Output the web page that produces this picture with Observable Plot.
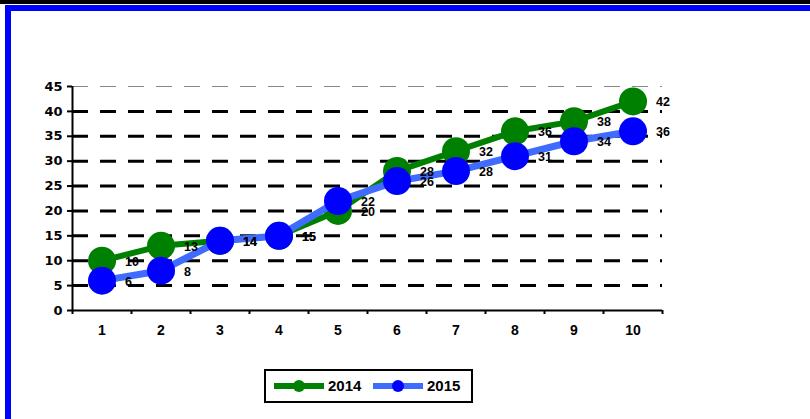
<!DOCTYPE html>
<html><head><meta charset="utf-8">
<script src="https://cdn.jsdelivr.net/npm/d3@7"></script>
<script src="https://cdn.jsdelivr.net/npm/@observablehq/plot@0.6"></script>
<style>
body{margin:0;background:#fff;font-family:"Liberation Sans",Arial,sans-serif;}
#wrap{position:relative;width:810px;height:419px;overflow:hidden;background:#fff;}
#chart{position:absolute;left:0;top:0;}
.blk{position:absolute;left:0;top:0;width:810px;height:4px;background:#000;}
.btop{position:absolute;left:5px;top:5px;width:805px;height:6px;background:#0000ff;}
.bleft{position:absolute;left:5px;top:5px;width:6px;height:414px;background:#0000ff;}
#legend{position:absolute;left:264px;top:369px;width:205px;height:30px;border:2px solid #000;box-sizing:content-box;}
.item{position:absolute;top:0;height:30px;}
.sw{position:absolute;top:12px;width:50px;height:6px;}
.dot{position:absolute;width:12px;height:12px;border-radius:50%;top:-3px;left:19px;}
.lab{position:absolute;top:6px;font-weight:bold;font-size:15px;color:#000;}
</style></head><body>
<div id="wrap">
  <div id="chart"></div>
  <div class="blk"></div>
  <div class="btop"></div>
  <div class="bleft"></div>
  <div id="legend"></div>
</div>
<script>
const categories = [1, 2, 3, 4, 5, 6, 7, 8, 9, 10];
const values2014 = [10, 13, 14, 15, 20, 28, 32, 36, 38, 42];
const values2015 = [6, 8, 14, 15, 22, 26, 28, 31, 34, 36];
const seriesNames = ["2014", "2015"];
const yTicks = [0, 5, 10, 15, 20, 25, 30, 35, 40, 45];
const colors = {"2014": {line: "#008000", dot: "#008000"}, "2015": {line: "#3f6bff", dot: "#0000ff"}};

const rows2014 = categories.map((c, i) => ({x: c, y: values2014[i]}));
const rows2015 = categories.map((c, i) => ({x: c, y: values2015[i]}));
const boundaries = [categories[0] - 0.5, ...categories.map(c => c + 0.5)];
const gridBlack = yTicks.slice(1, -1);
const gridTop = yTicks.slice(-1);
const xMin = categories[0] - 0.5;

const plot = Plot.plot({
  width: 810,
  height: 345,
  marginLeft: 72,
  marginRight: 148,
  marginTop: 86,
  marginBottom: 35,
  x: {type: "linear", domain: [xMin, categories[categories.length - 1] + 0.5]},
  y: {domain: [0, 45]},
  style: {fontFamily: "'Liberation Sans', Arial, sans-serif", fontWeight: "bold", fontSize: "14px", color: "#000", background: "transparent"},
  marks: [
    Plot.ruleY(gridBlack, {stroke: "#000", strokeWidth: 3, strokeDasharray: "16,12"}),
    Plot.ruleY(gridTop, {stroke: "#888", strokeWidth: 1, strokeDasharray: "16,12"}),
    Plot.axisY({ticks: yTicks, tickSize: 5, tickFormat: () => "", label: null, strokeWidth: 2}),
    Plot.axisX({ticks: boundaries, tickSize: 4, tickFormat: () => "", label: null, strokeWidth: 2}),
    Plot.text(yTicks, {x: () => xMin, y: d => d, text: d => String(d), dx: -10, textAnchor: "end", fontSize: 13, fontWeight: "bold", fontFamily: "'DejaVu Sans', sans-serif", fill: "#000"}),
    Plot.text(categories, {x: d => d, y: () => 0, text: d => String(d), dy: 20, fontSize: 14, fontWeight: "bold", fill: "#000"}),
    Plot.ruleX([xMin], {y1: 0, y2: 45, stroke: "#000", strokeWidth: 2}),
    Plot.ruleY([0], {stroke: "#000", strokeWidth: 2}),
    Plot.lineY(rows2014, {x: "x", y: "y", stroke: colors["2014"].line, strokeWidth: 6}),
    Plot.dot(rows2014, {x: "x", y: "y", r: 14, fill: colors["2014"].dot}),
    Plot.lineY(rows2015, {x: "x", y: "y", stroke: colors["2015"].line, strokeWidth: 7}),
    Plot.dot(rows2015, {x: "x", y: "y", r: 14, fill: colors["2015"].dot}),
    Plot.text(rows2014, {x: "x", y: "y", text: d => String(d.y), dx: 23, dy: 1, textAnchor: "start", fontSize: 12.5, fontWeight: "bold", fill: "#000"}),
    Plot.text(rows2015, {x: "x", y: "y", text: d => String(d.y), dx: 23, dy: 1, textAnchor: "start", fontSize: 12.5, fontWeight: "bold", fill: "#000"})
  ]
});
document.getElementById("chart").appendChild(plot);

const legend = document.getElementById("legend");
const legendX = [8, 107];
seriesNames.forEach((name, i) => {
  const item = document.createElement("div");
  item.className = "item";
  item.style.left = legendX[i] + "px";
  const sw = document.createElement("div");
  sw.className = "sw";
  sw.style.background = colors[name].line;
  const dot = document.createElement("div");
  dot.className = "dot";
  dot.style.background = colors[name].dot;
  sw.appendChild(dot);
  const lab = document.createElement("span");
  lab.className = "lab";
  lab.style.left = "54px";
  lab.textContent = name;
  item.appendChild(sw);
  item.appendChild(lab);
  legend.appendChild(item);
});
</script>
</body></html>
